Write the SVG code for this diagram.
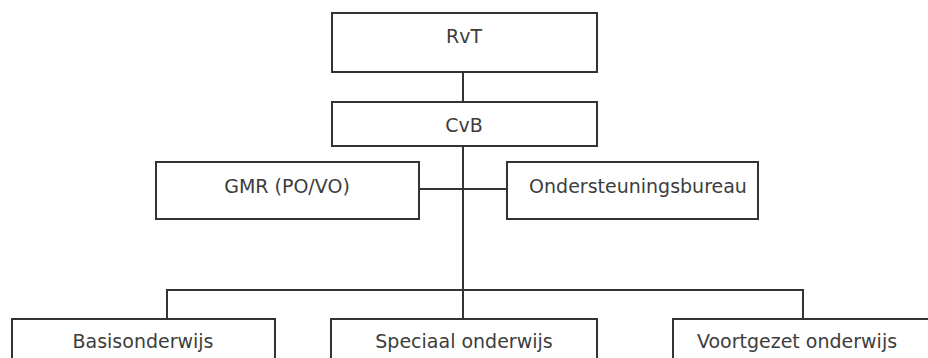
<svg xmlns="http://www.w3.org/2000/svg" width="928" height="358" viewBox="0 0 928 358">
<style>
.box{fill:#fff;stroke:#333;stroke-width:2}
.lbl{font-family:"DejaVu Sans",Verdana,sans-serif;font-size:19px;fill:#3d3d3d;text-anchor:middle}
.con{fill:none;stroke:#333;stroke-width:2}
</style>
<rect width="928" height="358" fill="#fff"/>
<g id="connectors">
<line class="con" x1="463" y1="72" x2="463" y2="102"/>
<line class="con" x1="463" y1="146" x2="463" y2="290"/>
<line class="con" x1="419" y1="189" x2="507" y2="189"/>
<polyline class="con" points="167,319 167,290 803,290 803,319"/>
<line class="con" x1="463" y1="290" x2="463" y2="319"/>
</g>
<g id="rvt"><rect class="box" x="332" y="13" width="265" height="59"/><text class="lbl" x="464" y="43">RvT</text></g>
<g id="cvb"><rect class="box" x="332" y="102" width="265" height="44"/><text class="lbl" x="464" y="132">CvB</text></g>
<g id="gmr"><rect class="box" x="156" y="162" width="263" height="57"/><text class="lbl" x="287" y="193">GMR (PO/VO)</text></g>
<g id="ondersteuningsbureau"><rect class="box" x="507" y="162" width="251" height="57"/><text class="lbl" x="638" y="193">Ondersteuningsbureau</text></g>
<g id="basisonderwijs"><rect class="box" x="12" y="319" width="263" height="50"/><text class="lbl" x="143" y="348">Basisonderwijs</text></g>
<g id="speciaal"><rect class="box" x="331" y="319" width="266" height="50"/><text class="lbl" x="464" y="348">Speciaal onderwijs</text></g>
<g id="voortgezet"><rect class="box" x="673" y="319" width="263" height="50"/><text class="lbl" x="797" y="348">Voortgezet onderwijs</text></g>
</svg>
